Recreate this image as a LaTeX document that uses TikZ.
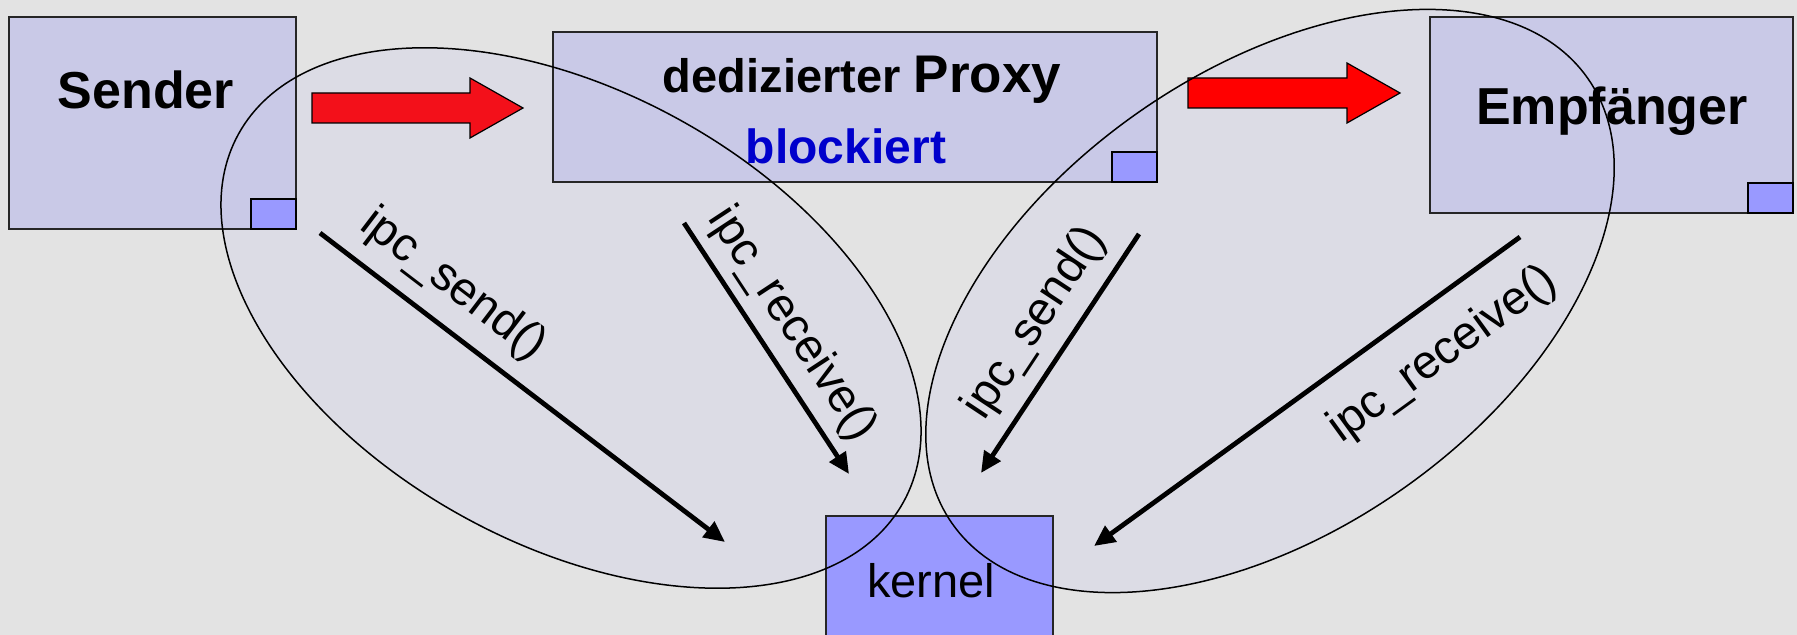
\documentclass[tikz,border=0pt]{standalone}
\usepackage{fontspec}
\setmainfont{Liberation Sans}
\usetikzlibrary{arrows.meta}
\definecolor{bg}{HTML}{E3E3E3}
\definecolor{ovalfill}{HTML}{DCDCE5}
\definecolor{boxfill}{HTML}{C9C9E7}
\definecolor{portfill}{HTML}{9999FF}
\definecolor{kernelfill}{HTML}{9999FF}
\definecolor{flowredA}{HTML}{F3101A}
\definecolor{flowredB}{HTML}{FF0000}
\definecolor{blockblue}{HTML}{0000CC}
\begin{document}
\begin{tikzpicture}[x=0.5pt, y=-0.5pt,
  procbox/.style={draw=black!85, line width=1pt, fill=boxfill, inner sep=0pt},
  portbox/.style={draw=black, line width=1.2pt, fill=portfill, minimum width=22.5pt,
    minimum height=15pt, inner sep=0pt, anchor=south east},
  kernelbox/.style={draw=black!85, line width=1pt, fill=kernelfill, inner sep=0pt},
  oval/.style={draw=black, line width=0.75pt},
  ipc/.style={line width=2.4pt, -{Triangle[length=10.5pt,width=9.5pt]}},
  lbl/.style={font=\fontsize{23.5pt}{26pt}\selectfont, inner sep=0pt},
  title/.style={font=\fontsize{26pt}{30pt}\selectfont\bfseries, inner sep=0pt, anchor=base},
  flow/.style={draw=black, line width=0.6pt, line join=miter}
]
\useasboundingbox[fill=bg] (0,0) rectangle (1797,635);

% shaded areas of the two IPC pairs
\fill[ovalfill, rotate around={-29:(571,318)}] (571,318) ellipse [x radius=190pt, y radius=113pt];
\fill[ovalfill, rotate around={35:(1270,301)}] (1270,301) ellipse [x radius=194pt, y radius=115pt];

% processes
\node[procbox, minimum width=143.5pt, minimum height=106pt] (sender) at (152.5,123) {};
\node[portbox] (senderport) at (sender.south east) {};
\node[procbox, minimum width=302pt, minimum height=75pt] (proxy) at (855,107) {};
\node[portbox] (proxyport) at (proxy.south east) {};
\node[procbox, minimum width=181.5pt, minimum height=98pt] (receiver) at (1611.5,115) {};
\node[portbox] (receiverport) at (receiver.south east) {};
\node[kernelbox, minimum width=113.5pt, minimum height=67pt] (kernel) at (939.5,583) {};

% process names
\node[title] (sendertext) at (146,109) {Sender};
\node[title] (proxytext) at (862,93) {{\fontsize{23.5pt}{26pt}\selectfont dedizierter }\fontsize{26.5pt}{30pt}\selectfont Proxy};
\node[title, font=\fontsize{24pt}{26pt}\selectfont\bfseries, text=blockblue] (blockedtext) at (846,164) {blockiert};
\node[title] (receivertext) at (1612,125) {Empfänger};
\node[anchor=base, inner sep=0pt, font=\fontsize{23.5pt}{26pt}\selectfont] (kerneltext) at (931,597) {kernel};

% message flow arrows
\coordinate (flowA) at (312,108);
\draw[flow, fill=flowredA] (flowA) ++(0,-15) -- ++(158,0) -- ++(0,-15) -- ++(53,30)
  -- ++(-53,30) -- ++(0,-15) -- ++(-158,0) -- cycle;
\coordinate (flowB) at (1188,93);
\draw[flow, fill=flowredB] (flowB) ++(0,-15) -- ++(159,0) -- ++(0,-15) -- ++(53,30)
  -- ++(-53,30) -- ++(0,-15) -- ++(-159,0) -- cycle;

% system calls into the kernel
\coordinate (sendA) at (320,233);  \coordinate (sendAend) at (725,542);
\coordinate (recvA) at (684,223);  \coordinate (recvAend) at (849,474);
\coordinate (sendB) at (1139,234); \coordinate (sendBend) at (981,473);
\coordinate (recvB) at (1520,237); \coordinate (recvBend) at (1094,546);
\draw[ipc] (sendA) -- node[lbl, sloped, pos=0.27, above=7.5pt] (lsendA) {ipc\_send()} (sendAend);
\draw[ipc] (recvA) -- node[lbl, sloped, pos=0.48, above=5pt] (lrecvA) {ipc\_receive()} (recvAend);
\draw[ipc] (sendB) -- node[lbl, sloped, pos=0.46, above=6.5pt] (lsendB) {ipc\_send()} (sendBend);
\draw[ipc] (recvB) -- node[lbl, sloped, pos=0.25, below=13pt] (lrecvB) {ipc\_receive()} (recvBend);

% outlines of the two IPC pairs
\draw[oval, rotate around={-29:(571,318)}] (571,318) ellipse [x radius=190pt, y radius=113pt];
\draw[oval, rotate around={35:(1270,301)}] (1270,301) ellipse [x radius=194pt, y radius=115pt];
\end{tikzpicture}
\end{document}
